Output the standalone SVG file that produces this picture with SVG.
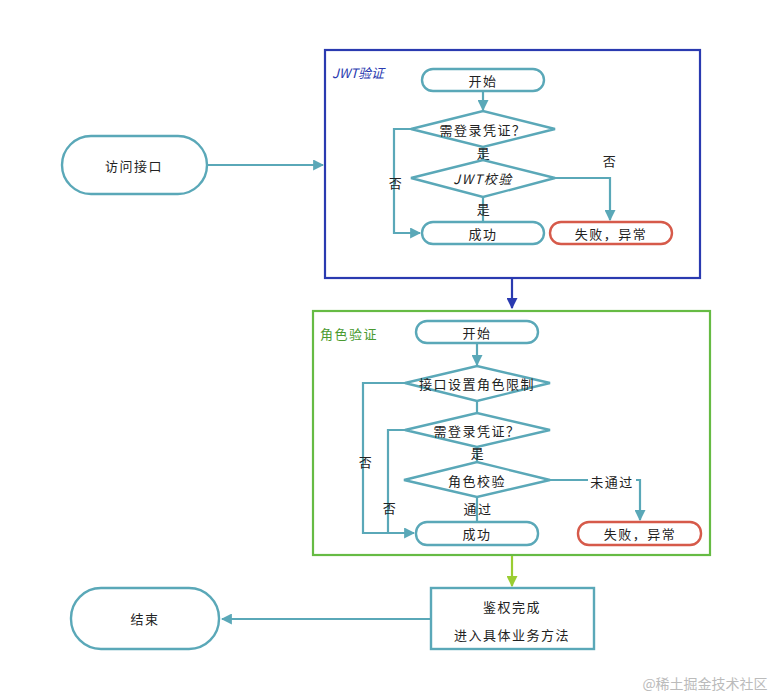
<svg xmlns="http://www.w3.org/2000/svg" width="783" height="695" viewBox="0 0 783 695">
<defs>
<style>
text{font-family:"Noto Sans CJK SC","Liberation Sans",sans-serif;font-size:13px;fill:#222;text-anchor:middle;dominant-baseline:central;letter-spacing:1.5px}
.n{fill:#fff;stroke:#5aa8b8;stroke-width:2.4}
.r{fill:#fff;stroke:#d65a4a;stroke-width:2.4}
.c{fill:none;stroke:#5aa8b8;stroke-width:2.2}
</style>
<marker id="a" viewBox="0 0 10 10" refX="9" refY="5" markerWidth="5" markerHeight="5" orient="auto"><path d="M0,0 L10,5 L0,10 z" fill="#5aa8b8"/></marker>
<marker id="ab" viewBox="0 0 10 10" refX="9" refY="5" markerWidth="5" markerHeight="5" orient="auto"><path d="M0,0 L10,5 L0,10 z" fill="#2a3ab0"/></marker>
<marker id="ag" viewBox="0 0 10 10" refX="9" refY="5" markerWidth="5" markerHeight="5" orient="auto"><path d="M0,0 L10,5 L0,10 z" fill="#9acd32"/></marker>
</defs>
<rect width="783" height="695" fill="#fff"/>
<g id="jwt-group">
<rect x="325" y="50" width="375" height="228" fill="none" stroke="#2a3ab0" stroke-width="2.2"/>
<text x="358" y="72" style="fill:#2a3ab0;font-style:italic;letter-spacing:0">JWT验证</text>
</g>
<g id="role-group">
<rect x="313" y="311" width="397" height="244" fill="none" stroke="#66bb44" stroke-width="2.2"/>
<text x="349" y="333" style="fill:#4a9a30">角色验证</text>
</g>
<g id="connectors">
<path class="c" d="M207,165 L323,165" marker-end="url(#a)"/>
<path class="c" d="M483,91 L483,110" marker-end="url(#a)"/>
<path class="c" d="M411,129 L394,129 L394,233 L420,233" marker-end="url(#a)"/>
<path class="c" d="M483,147 L483,160"/>
<path class="c" d="M555,178 L610,178 L610,220" marker-end="url(#a)"/>
<path class="c" d="M483,197 L483,222"/>
<path d="M512,278 L512,308" fill="none" stroke="#2a3ab0" stroke-width="2.2" marker-end="url(#ab)"/>
<path class="c" d="M477,343 L477,365" marker-end="url(#a)"/>
<path class="c" d="M405,383 L363,383 L363,533 L414,533" marker-end="url(#a)"/>
<path class="c" d="M477,401 L477,412"/>
<path class="c" d="M405,430 L388,430 L388,533"/>
<path class="c" d="M477,447 L477,462"/>
<path class="c" d="M550,480 L588,480"/>
<path class="c" d="M636,480 L640,480 L640,520" marker-end="url(#a)"/>
<path class="c" d="M477,497 L477,522"/>
<path d="M512,556 L512,586" fill="none" stroke="#9acd32" stroke-width="2.2" marker-end="url(#ag)"/>
<path class="c" d="M431,619 L222,619" marker-end="url(#a)"/>
<text x="396" y="182">否</text>
<text x="610" y="160">否</text>
<text x="484" y="152">是</text>
<text x="484" y="208">是</text>
<text x="366" y="461">否</text>
<text x="390" y="507">否</text>
<text x="478" y="452">是</text>
<text x="478" y="508">通过</text>
<text x="612" y="481">未通过</text>
</g>
<g id="visit"><rect class="n" x="62" y="136" width="145" height="58" rx="29"/><text x="134" y="165">访问接口</text></g>
<g id="jwt-start"><rect class="n" x="422" y="69" width="122" height="22" rx="11"/><text x="483" y="80">开始</text></g>
<g id="jwt-need"><polygon class="n" points="411,129 483,111 555,129 483,147"/><text x="483" y="129">需登录凭证？</text></g>
<g id="jwt-check"><polygon class="n" points="411,178 483,160 555,178 483,197"/><text x="483" y="178" style="font-style:italic">JWT校验</text></g>
<g id="jwt-ok"><rect class="n" x="422" y="222" width="122" height="22" rx="11"/><text x="483" y="233">成功</text></g>
<g id="jwt-fail"><rect class="r" x="550" y="222" width="122" height="22" rx="11"/><text x="611" y="233">失败，异常</text></g>
<g id="role-start"><rect class="n" x="416" y="321" width="122" height="22" rx="11"/><text x="477" y="332">开始</text></g>
<g id="role-limit"><polygon class="n" points="405,383 477,366 550,383 477,401"/><text x="477" y="383">接口设置角色限制</text></g>
<g id="role-need"><polygon class="n" points="405,430 477,413 550,430 477,447"/><text x="477" y="430">需登录凭证？</text></g>
<g id="role-check"><polygon class="n" points="404,480 477,462 550,480 477,497"/><text x="477" y="480">角色校验</text></g>
<g id="role-ok"><rect class="n" x="416" y="522" width="122" height="23" rx="11"/><text x="477" y="533">成功</text></g>
<g id="role-fail"><rect class="r" x="578" y="522" width="123" height="23" rx="11"/><text x="640" y="533">失败，异常</text></g>
<g id="done"><rect class="n" x="431" y="588" width="163" height="61"/><text x="512" y="606">鉴权完成</text><text x="512" y="634">进入具体业务方法</text></g>
<g id="end"><rect class="n" x="71" y="588" width="148" height="61" rx="30"/><text x="145" y="618">结束</text></g>
<text x="705" y="683" style="fill:#bbb;font-size:14px;letter-spacing:0">@稀土掘金技术社区</text>
</svg>
